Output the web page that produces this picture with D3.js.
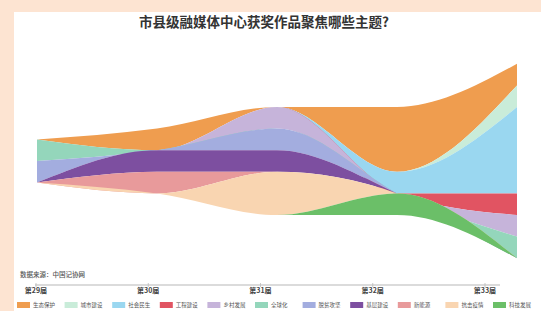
<!DOCTYPE html>
<html>
<head>
<meta charset="utf-8">
<script src="https://cdn.jsdelivr.net/npm/d3@7"></script>
<style>
  html, body { margin: 0; padding: 0; background: #fde4d2; }
  svg { display: block; }
</style>
</head>
<body>
<svg id="chart" width="541" height="311"></svg>
<script>
// --- Data ---
const periods = ["第29届", "第30届", "第31届", "第32届", "第33届"];
const topics = ["生态保护", "城市建设", "社会民生", "工程建设", "乡村发展", "全球化",
                "脱贫攻坚", "基层建设", "新能源", "抗击疫情", "科技发展"];
const topicColors = ["#ef9d4f", "#c9ecd9", "#9ad7f0", "#e15462", "#c6b4da", "#94d6bb",
                     "#a3addf", "#7d4fa0", "#e89a9b", "#f9d5b1", "#6bbf68"];
// works per topic, one value per period
const ecology     = [0, 2, 0, 6, 2];
const urban       = [0, 0, 0, 0, 2];
const livelihood  = [0, 0, 0, 2, 8];
const engineering = [0, 0, 0, 0, 2];
const rural       = [0, 0, 2, 0, 2];
const globalTopic = [2, 0, 0, 0, 2];
const poverty     = [2, 0, 2, 0, 0];
const grassroots  = [0, 2, 2, 0, 0];
const newEnergy   = [0, 2, 0, 0, 0];
const epidemic    = [0, 0, 4, 0, 0];
const technology  = [0, 0, 0, 2, 0];
const seriesValues = [ecology, urban, livelihood, engineering, rural, globalTopic,
                      poverty, grassroots, newEnergy, epidemic, technology];

const FONT = "'Noto Sans CJK SC', 'Noto Sans', sans-serif";

const rows = periods.map((p, i) => {
  const r = { period: p };
  topics.forEach((t, k) => r[t] = seriesValues[k][i]);
  return r;
});

const svg = d3.select("#chart");

// white panel
svg.append("rect")
  .attr("x", 14).attr("y", 12)
  .attr("width", 541 - 14).attr("height", 311 - 12)
  .attr("fill", "#ffffff");

// title
svg.append("text")
  .attr("x", 264).attr("y", 27)
  .attr("text-anchor", "middle")
  .attr("font-family", FONT)
  .attr("font-size", 13.5)
  .attr("font-weight", 700)
  .attr("fill", "#333")
  .text("市县级融媒体中心获奖作品聚焦哪些主题?");

// --- Stream ---
const stack = d3.stack()
  .keys(topics)
  .order(d3.stackOrderNone)
  .offset(d3.stackOffsetSilhouette);
const layers = stack(rows);

const x = d3.scalePoint().domain(periods).range([37, 517]);
const y = d3.scaleLinear().domain([0, 1]).range([161, 171.8]);

const area = d3.area()
  .x(d => x(d.data.period))
  .y0(d => y(d[0]))
  .y1(d => y(d[1]))
  .curve(d3.curveMonotoneX);

svg.append("g").attr("class", "stream")
  .selectAll("path")
  .data(layers)
  .join("path")
  .attr("d", area)
  .attr("fill", (d, i) => topicColors[i]);

// source
svg.append("text")
  .attr("x", 20).attr("y", 276.5)
  .attr("font-family", FONT)
  .attr("font-size", 6.5)
  .attr("font-weight", 500)
  .attr("fill", "#555")
  .text("数据来源：中国记协网");

// --- Axis ---
const xAxis = d3.scalePoint().domain(periods).range([36, 485]);
const axisG = svg.append("g").attr("class", "axis");
axisG.append("line")
  .attr("x1", 35).attr("x2", 500)
  .attr("y1", 285).attr("y2", 285)
  .attr("stroke", "#cfcfcf").attr("stroke-width", 1.5);
axisG.selectAll("line.tick")
  .data(periods)
  .join("line")
  .attr("class", "tick")
  .attr("x1", d => xAxis(d)).attr("x2", d => xAxis(d))
  .attr("y1", 283).attr("y2", 287)
  .attr("stroke", "#bbb").attr("stroke-width", 0.8);
axisG.selectAll("text")
  .data(periods)
  .join("text")
  .attr("x", d => xAxis(d))
  .attr("y", 293)
  .attr("text-anchor", "middle")
  .attr("font-family", FONT)
  .attr("font-size", 7)
  .attr("font-weight", 700)
  .attr("fill", "#444")
  .text(d => d);

// --- Legend ---
const legend = svg.append("g").attr("class", "legend");
const item = legend.selectAll("g")
  .data(topics)
  .join("g")
  .attr("transform", (d, i) => `translate(${17 + i * 47.6},302)`);
item.append("rect")
  .attr("width", 13).attr("height", 6)
  .attr("fill", (d, i) => topicColors[i]);
item.append("text")
  .attr("x", 16).attr("y", 5.3)
  .attr("font-family", FONT)
  .attr("font-size", 5.5)
  .attr("fill", "#555")
  .text(d => d);
</script>
</body>
</html>
